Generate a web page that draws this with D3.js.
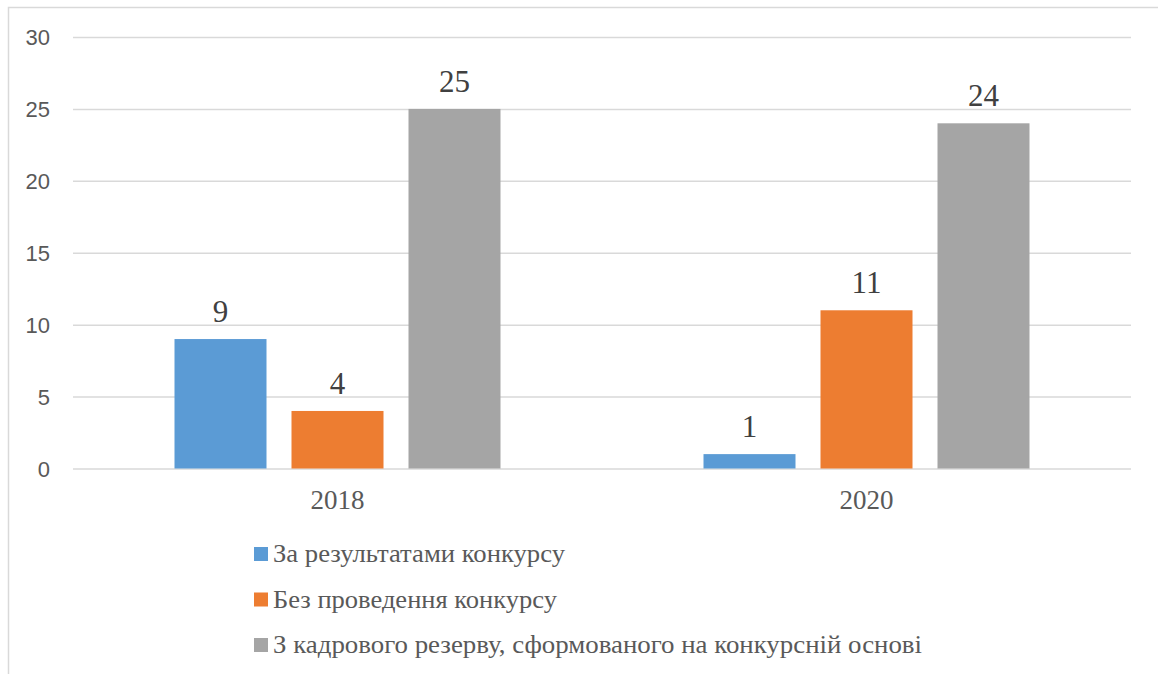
<!DOCTYPE html>
<html>
<head>
<meta charset="utf-8">
<script src="https://cdn.jsdelivr.net/npm/d3@7"></script>
</head>
<body style="margin:0;background:#fff">
<svg id="chart" width="1158" height="674" font-family="'Liberation Serif', 'Times New Roman', serif"></svg>
<script>
const categories = ["2018", "2020"];
const seriesNames = [
  "За результатами конкурсу",
  "Без проведення конкурсу",
  "З кадрового резерву, сформованого на конкурсній основі"
];
const seriesA = [9, 1];
const seriesB = [4, 11];
const seriesC = [25, 24];
const yTicks = [0, 5, 10, 15, 20, 25, 30];
const colors = ["#5B9BD5", "#ED7D31", "#A5A5A5"];
const legendWidths = [292, 284, 649];

const allSeries = [seriesA, seriesB, seriesC];
const serifStack = "'Liberation Serif', 'Times New Roman', serif";
const svg = d3.select("#chart");

// legend (drawn first)
const legend = svg.append("g").attr("class", "legend").selectAll("g")
  .data(seriesNames)
  .join("g")
  .attr("transform", (d, i) => `translate(254,${547 + i * 45.5})`);
legend.append("rect")
  .attr("width", 14).attr("height", 14)
  .attr("fill", (d, i) => colors[i]);
legend.append("text")
  .attr("x", 19).attr("y", 15)
  .attr("fill", "#595959")
  .attr("font-family", serifStack)
  .attr("font-size", 25)
  .attr("textLength", (d, i) => legendWidths[i])
  .attr("lengthAdjust", "spacingAndGlyphs")
  .text(d => d);

// chart border
svg.append("rect")
  .attr("x", 8.5).attr("y", 7.5)
  .attr("width", 1200).attr("height", 700)
  .attr("fill", "none").attr("stroke", "#d9d9d9").attr("stroke-width", 1.5);

const plotL = 73, plotR = 1131, plotT = 37, plotB = 468.5;

const y = d3.scaleLinear().domain([0, 30]).range([plotB, plotT]);
const x0 = d3.scaleBand().domain(categories).range([plotL, plotR]).padding(0);
const groupW = 326;
const x1 = d3.scaleBand().domain(d3.range(3))
  .range([(x0.bandwidth() - groupW) / 2, (x0.bandwidth() + groupW) / 2])
  .paddingInner(25 / 117).paddingOuter(0);

// y axis + gridlines
const yAxis = d3.axisLeft(y).tickValues(yTicks).tickSize(-(plotR - plotL)).tickPadding(23);
const gy = svg.append("g").attr("transform", `translate(${plotL},0)`).call(yAxis);
gy.select(".domain").remove();
gy.attr("font-family", "'Liberation Sans', Arial, sans-serif").attr("font-size", 22);
gy.selectAll(".tick line").attr("stroke", "#d9d9d9").attr("stroke-width", 1.5);
gy.selectAll(".tick text")
  .attr("fill", "#595959")
  .attr("dy", "0.36em");

// bars
const groups = svg.append("g").selectAll("g")
  .data(categories)
  .join("g")
  .attr("transform", d => `translate(${x0(d)},0)`);

groups.selectAll("rect")
  .data((d, i) => allSeries.map((s, k) => ({ k, v: s[i] })))
  .join("rect")
  .attr("x", d => x1(d.k))
  .attr("width", x1.bandwidth())
  .attr("y", d => y(d.v))
  .attr("height", d => y(0) - y(d.v))
  .attr("fill", d => colors[d.k]);

groups.selectAll("text.val")
  .data((d, i) => allSeries.map((s, k) => ({ k, v: s[i] })))
  .join("text")
  .attr("class", "val")
  .attr("x", d => x1(d.k) + x1.bandwidth() / 2)
  .attr("y", d => y(d.v) - 17)
  .attr("text-anchor", "middle")
  .attr("fill", "#404040")
  .attr("font-family", serifStack)
  .attr("font-size", 31)
  .text(d => d.v);

// x axis labels
const xAxis = d3.axisBottom(x0).tickSize(0).tickPadding(0);
const gx = svg.append("g").attr("transform", `translate(0,${plotB})`).call(xAxis);
gx.select(".domain").remove();
gx.attr("font-family", serifStack).attr("font-size", 27);
gx.selectAll(".tick text")
  .attr("y", 40.5).attr("dy", null)
  .attr("fill", "#595959");
</script>
</body>
</html>
